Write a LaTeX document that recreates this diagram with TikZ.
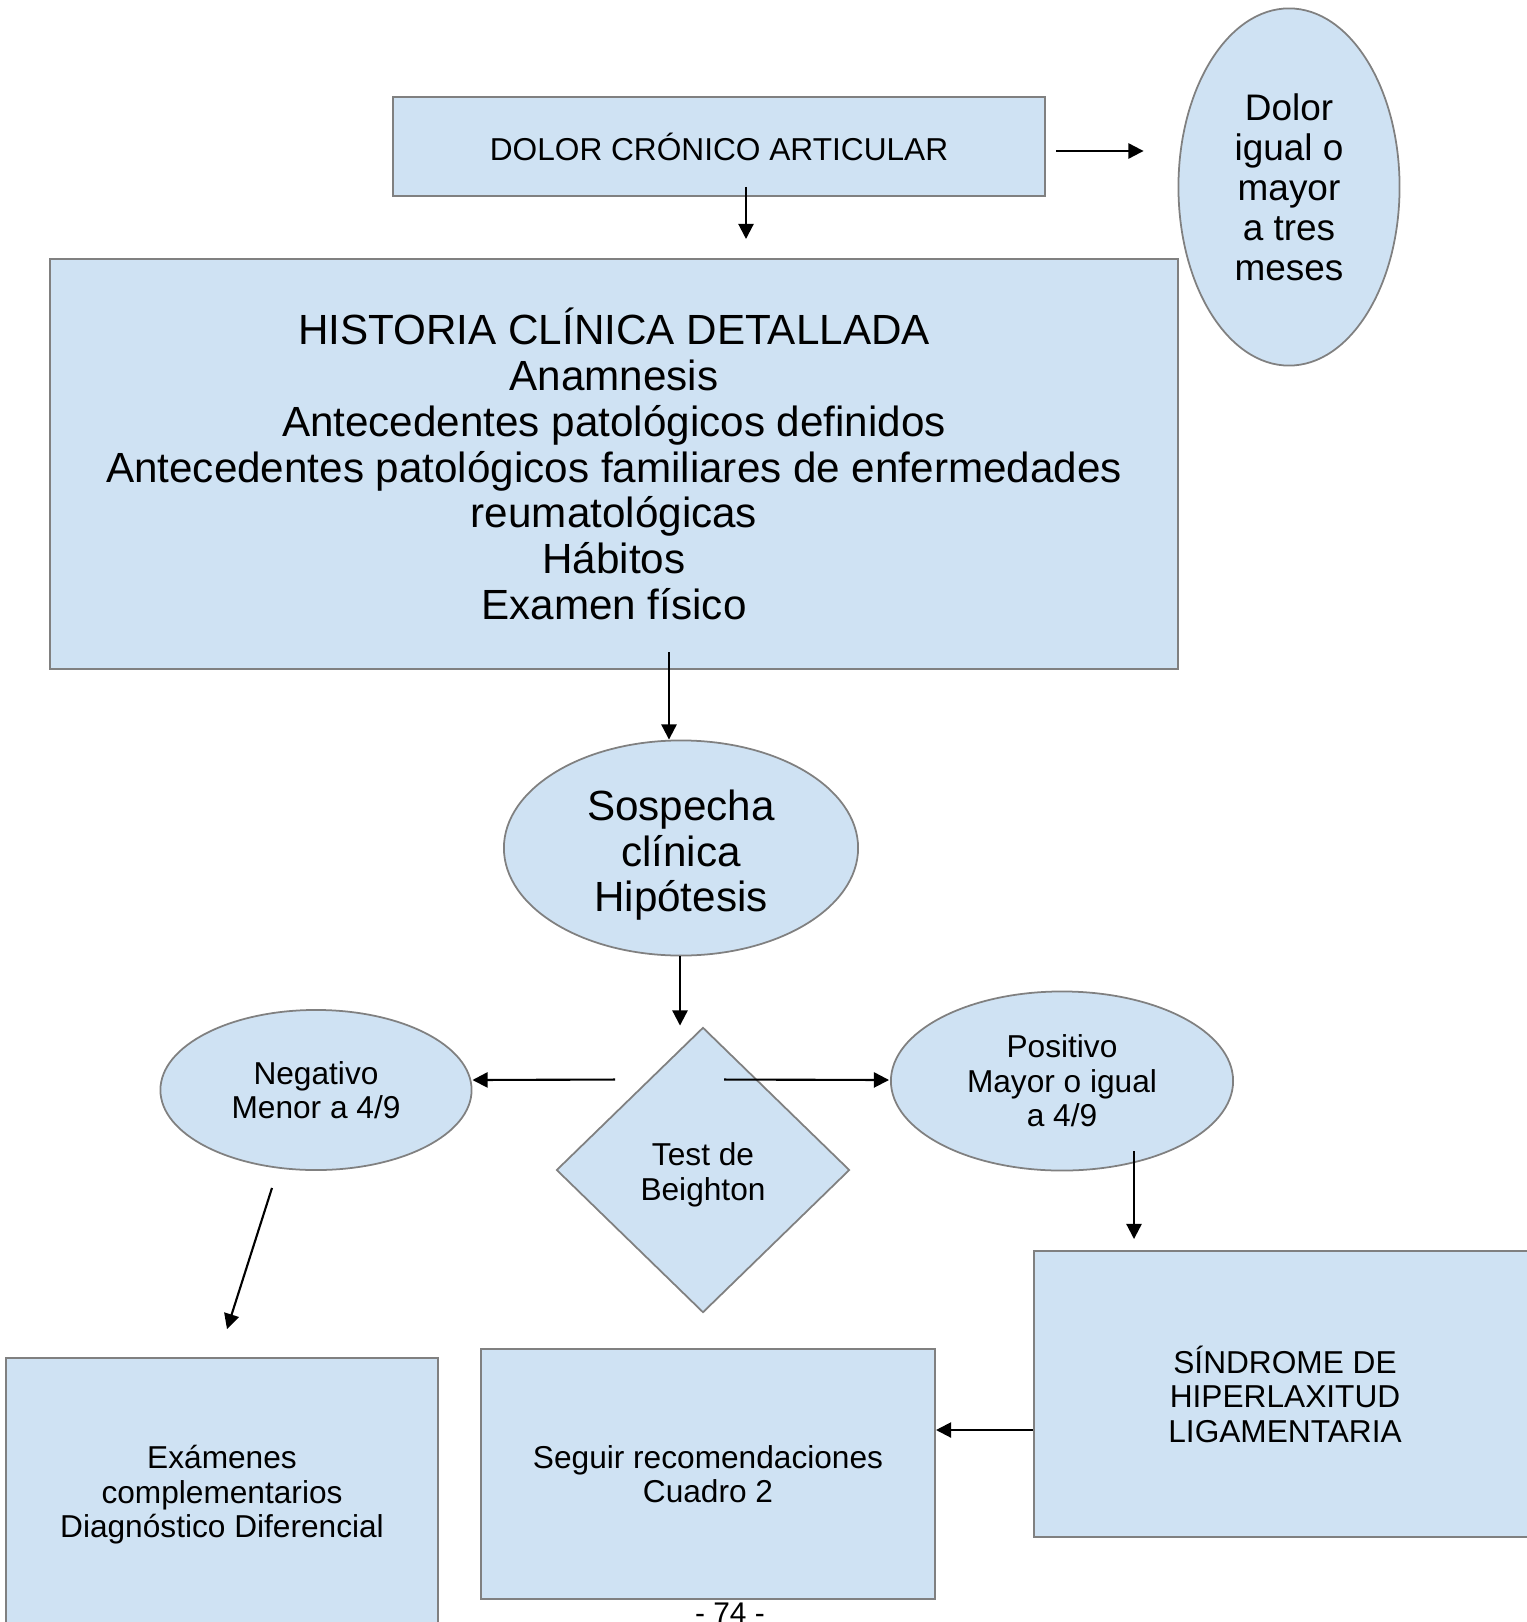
\documentclass[tikz,border=0pt]{standalone}
\usepackage{fontspec}
\setmainfont{Liberation Sans}
\usepackage{xcolor}
\usepackage{tikz}
\usetikzlibrary{shapes.geometric, arrows.meta}
\definecolor{celeste}{HTML}{CFE2F3}
\definecolor{borde}{HTML}{808080}
\newcommand{\fnueve}{\fontsize{9}{9.8}\selectfont}
\newcommand{\fdoce}{\fontsize{12}{13}\selectfont}
\newcommand{\bajar}[2]{\raisebox{-#1}[\height][\depth]{\begin{tabular}{@{}c@{}}#2\end{tabular}}}

\begin{document}
\begin{tikzpicture}[x=0.01cm,y=-0.01cm]
    \tikzstyle{caja}=[draw=borde,fill=celeste,line width=0.5pt,inner sep=0pt,align=center]
    \tikzstyle{elipse}=[caja,ellipse]
    \tikzstyle{rombo}=[caja,diamond]
    \tikzstyle{flecha}=[-{Triangle[length=4.3pt,width=4.3pt]},line width=0.6pt]
    \useasboundingbox (0,0) rectangle (1526,1622);

    \node (cronico)[caja,minimum width=6.52cm,minimum height=0.99cm,font=\fnueve] at (719,146.5) {DOLOR CRÓNICO ARTICULAR};
    \node (tres)[elipse,minimum width=2.21cm,minimum height=3.57cm,font=\fontsize{10.5}{11.4}\selectfont] at (1289,187) {Dolor\\igual o\\mayor\\a tres\\meses};
    \node (historia)[caja,minimum width=11.28cm,minimum height=4.10cm,font=\fdoce] at (614,464) {HISTORIA CLÍNICA DETALLADA\\Anamnesis\\Antecedentes patológicos definidos\\Antecedentes patológicos familiares de enfermedades\\reumatológicas\\Hábitos\\Examen físico};
    \node (sospecha)[elipse,minimum width=3.54cm,minimum height=2.15cm,font=\fdoce] at (681,848) {\bajar{0.09cm}{Sospecha\\clínica\\Hipótesis}};
    \node (beighton)[rombo,minimum width=2.93cm,minimum height=2.85cm,font=\fnueve] at (703,1170) {\bajar{0.06cm}{Test de\\Beighton}};
    \node (negativo)[elipse,minimum width=3.11cm,minimum height=1.60cm,font=\fnueve] at (316,1090) {Negativo\\Menor a 4/9};
    \node (positivo)[elipse,minimum width=3.42cm,minimum height=1.79cm,font=\fnueve] at (1062,1081) {Positivo\\Mayor o igual\\a 4/9};
    \node (sindrome)[caja,minimum width=5.02cm,minimum height=2.86cm,font=\fnueve] at (1285,1394) {SÍNDROME DE\\HIPERLAXITUD\\LIGAMENTARIA};
    \node (seguir)[caja,minimum width=4.54cm,minimum height=2.50cm,font=\fnueve] at (708,1474) {Seguir recomendaciones\\Cuadro 2};
    \node (examenes)[caja,minimum width=4.31cm,minimum height=2.74cm,font=\fnueve] at (222,1495) {Exámenes\\complementarios\\Diagnóstico Diferencial};
    \node (pagina)[font=\fontsize{8.5}{9}\selectfont] at (730,1613) {- 74 -};

    \draw[flecha] ([shift={(10,4.5)}]cronico.east) -- ([shift={(-34,-36)}]tres.west);
    \draw[flecha] ([shift={(27,-10)}]cronico.south) -- ([shift={(132,-19)}]historia.north);
    \draw[flecha] ([shift={(55,-18)}]historia.south) -- ([shift={(-12,0)}]sospecha.north);
    \draw[flecha] ([shift={(-1,0)}]sospecha.south) -- ([shift={(-23,-1)}]beighton.north);
    \draw[flecha] ([shift={(-88,53)}]beighton.north) -- ([shift={(0,-10)}]negativo.east);
    \draw[flecha] ([shift={(21,53)}]beighton.north) -- ([shift={(-1,-1)}]positivo.west);
    \draw[flecha] ([shift={(-44,17)}]negativo.south) -- ([shift={(5,-28)}]examenes.north);
    \draw[flecha] ([shift={(72,-20)}]positivo.south) -- ([shift={(-151,-11)}]sindrome.north);
    \draw[flecha] ([shift={(0,36)}]sindrome.west) -- ([shift={(0,-44)}]seguir.east);
\end{tikzpicture}
\end{document}
